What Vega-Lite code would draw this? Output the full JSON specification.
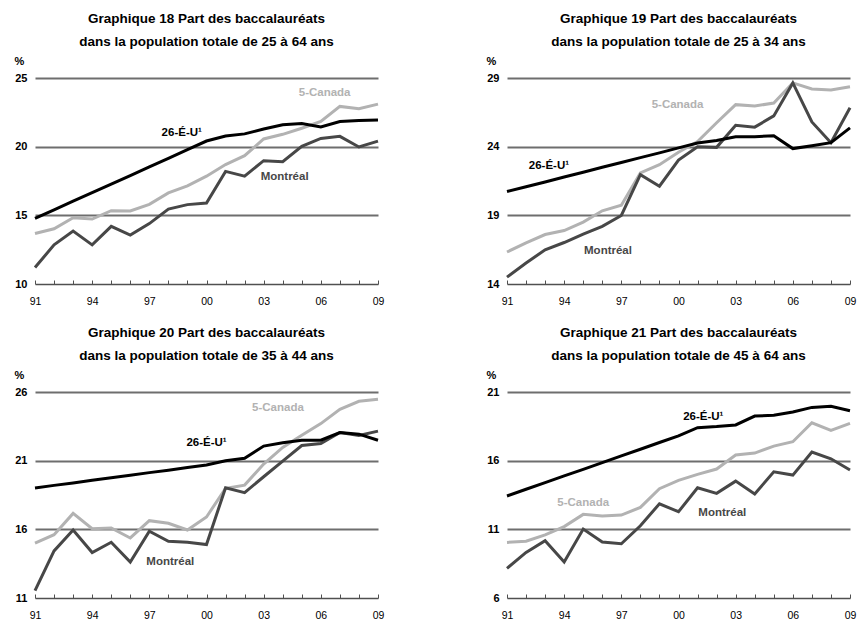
{
  "$schema": "https://vega.github.io/schema/vega-lite/v6.json",
  "background": "white",
  "padding": {"left": 14, "top": 11, "right": 6, "bottom": 4},
  "columns": 2,
  "spacing": {"row": 18, "column": 102},
  "resolve": {"scale": {"x": "independent", "y": "independent"}},
  "config": {
    "font": "Liberation Sans",
    "view": {"stroke": null},
    "title": {"fontSize": 13.5, "fontWeight": "bold", "lineHeight": 23, "anchor": "middle", "color": "#000000", "offset": 7},
    "axisX": {"grid": false, "domainColor": "#505050", "domainWidth": 1.5, "tickColor": "#505050", "tickWidth": 1, "tickSize": -4, "labelFontSize": 10.5, "labelColor": "#000000", "labelPadding": 18, "labelFlush": false, "labelOverlap": false, "labelBound": false, "title": null},
    "axisY": {"domain": false, "ticks": false, "grid": true, "gridColor": "#6e6e6e", "gridWidth": 2, "labelFontSize": 11, "labelFontWeight": "bold", "labelColor": "#000000", "labelPadding": 8, "titleAngle": 0, "titleX": -16, "titleY": -17, "titleFontSize": 11, "titleFontWeight": "bold", "titleAlign": "center", "titleBaseline": "middle", "titleColor": "#000000"}
  },
  "datasets": {
    "series": [
      {"panel": 18, "year": 1991, "Montréal": 11.2, "5-Canada": 13.68, "26-É-U": 14.78},
      {"panel": 18, "year": 1992, "Montréal": 12.85, "5-Canada": 14.02, "26-É-U": 15.4},
      {"panel": 18, "year": 1993, "Montréal": 13.85, "5-Canada": 14.83, "26-É-U": 16.03},
      {"panel": 18, "year": 1994, "Montréal": 12.85, "5-Canada": 14.73, "26-É-U": 16.65},
      {"panel": 18, "year": 1995, "Montréal": 14.2, "5-Canada": 15.34, "26-É-U": 17.28},
      {"panel": 18, "year": 1996, "Montréal": 13.56, "5-Canada": 15.32, "26-É-U": 17.9},
      {"panel": 18, "year": 1997, "Montréal": 14.4, "5-Canada": 15.8, "26-É-U": 18.53},
      {"panel": 18, "year": 1998, "Montréal": 15.46, "5-Canada": 16.63, "26-É-U": 19.15},
      {"panel": 18, "year": 1999, "Montréal": 15.78, "5-Canada": 17.15, "26-É-U": 19.78},
      {"panel": 18, "year": 2000, "Montréal": 15.9, "5-Canada": 17.85, "26-É-U": 20.41},
      {"panel": 18, "year": 2001, "Montréal": 18.2, "5-Canada": 18.7, "26-É-U": 20.78},
      {"panel": 18, "year": 2002, "Montréal": 17.85, "5-Canada": 19.34, "26-É-U": 20.93},
      {"panel": 18, "year": 2003, "Montréal": 18.98, "5-Canada": 20.56, "26-É-U": 21.29},
      {"panel": 18, "year": 2004, "Montréal": 18.9, "5-Canada": 20.9, "26-É-U": 21.59},
      {"panel": 18, "year": 2005, "Montréal": 20.02, "5-Canada": 21.34, "26-É-U": 21.68},
      {"panel": 18, "year": 2006, "Montréal": 20.6, "5-Canada": 21.83, "26-É-U": 21.44},
      {"panel": 18, "year": 2007, "Montréal": 20.75, "5-Canada": 22.93, "26-É-U": 21.83},
      {"panel": 18, "year": 2008, "Montréal": 19.98, "5-Canada": 22.76, "26-É-U": 21.9},
      {"panel": 18, "year": 2009, "Montréal": 20.4, "5-Canada": 23.1, "26-É-U": 21.95},

      {"panel": 19, "year": 1991, "Montréal": 14.5, "5-Canada": 16.33, "26-É-U": 20.73},
      {"panel": 19, "year": 1992, "Montréal": 15.53, "5-Canada": 17.0, "26-É-U": 21.08},
      {"panel": 19, "year": 1993, "Montréal": 16.49, "5-Canada": 17.6, "26-É-U": 21.43},
      {"panel": 19, "year": 1994, "Montréal": 17.02, "5-Canada": 17.89, "26-É-U": 21.79},
      {"panel": 19, "year": 1995, "Montréal": 17.64, "5-Canada": 18.51, "26-É-U": 22.14},
      {"panel": 19, "year": 1996, "Montréal": 18.2, "5-Canada": 19.33, "26-É-U": 22.5},
      {"panel": 19, "year": 1997, "Montréal": 18.99, "5-Canada": 19.74, "26-É-U": 22.85},
      {"panel": 19, "year": 1998, "Montréal": 21.96, "5-Canada": 22.09, "26-É-U": 23.2},
      {"panel": 19, "year": 1999, "Montréal": 21.12, "5-Canada": 22.69, "26-É-U": 23.55},
      {"panel": 19, "year": 2000, "Montréal": 23.02, "5-Canada": 23.6, "26-É-U": 23.91},
      {"panel": 19, "year": 2001, "Montréal": 24.0, "5-Canada": 24.37, "26-É-U": 24.26},
      {"panel": 19, "year": 2002, "Montréal": 23.95, "5-Canada": 25.74, "26-É-U": 24.45},
      {"panel": 19, "year": 2003, "Montréal": 25.56, "5-Canada": 27.06, "26-É-U": 24.72},
      {"panel": 19, "year": 2004, "Montréal": 25.42, "5-Canada": 26.96, "26-É-U": 24.72},
      {"panel": 19, "year": 2005, "Montréal": 26.24, "5-Canada": 27.18, "26-É-U": 24.8},
      {"panel": 19, "year": 2006, "Montréal": 28.64, "5-Canada": 28.64, "26-É-U": 23.86},
      {"panel": 19, "year": 2007, "Montréal": 25.8, "5-Canada": 28.2, "26-É-U": 24.07},
      {"panel": 19, "year": 2008, "Montréal": 24.29, "5-Canada": 28.13, "26-É-U": 24.29},
      {"panel": 19, "year": 2009, "Montréal": 26.83, "5-Canada": 28.37, "26-É-U": 25.37},

      {"panel": 20, "year": 1991, "Montréal": 11.53, "5-Canada": 15.0, "26-É-U": 19.01},
      {"panel": 20, "year": 1992, "Montréal": 14.43, "5-Canada": 15.61, "26-É-U": 19.2},
      {"panel": 20, "year": 1993, "Montréal": 15.95, "5-Canada": 17.16, "26-É-U": 19.38},
      {"panel": 20, "year": 1994, "Montréal": 14.31, "5-Canada": 16.05, "26-É-U": 19.57},
      {"panel": 20, "year": 1995, "Montréal": 15.06, "5-Canada": 16.1, "26-É-U": 19.76},
      {"panel": 20, "year": 1996, "Montréal": 13.61, "5-Canada": 15.37, "26-É-U": 19.94},
      {"panel": 20, "year": 1997, "Montréal": 15.86, "5-Canada": 16.63, "26-É-U": 20.13},
      {"panel": 20, "year": 1998, "Montréal": 15.13, "5-Canada": 16.44, "26-É-U": 20.31},
      {"panel": 20, "year": 1999, "Montréal": 15.06, "5-Canada": 15.95, "26-É-U": 20.5},
      {"panel": 20, "year": 2000, "Montréal": 14.89, "5-Canada": 16.9, "26-É-U": 20.69},
      {"panel": 20, "year": 2001, "Montréal": 19.03, "5-Canada": 18.98, "26-É-U": 21.0},
      {"panel": 20, "year": 2002, "Montréal": 18.67, "5-Canada": 19.22, "26-É-U": 21.17},
      {"panel": 20, "year": 2003, "Montréal": 19.83, "5-Canada": 20.75, "26-É-U": 22.06},
      {"panel": 20, "year": 2004, "Montréal": 20.97, "5-Canada": 21.96, "26-É-U": 22.3},
      {"panel": 20, "year": 2005, "Montréal": 22.1, "5-Canada": 22.85, "26-É-U": 22.49},
      {"panel": 20, "year": 2006, "Montréal": 22.25, "5-Canada": 23.7, "26-É-U": 22.49},
      {"panel": 20, "year": 2007, "Montréal": 23.05, "5-Canada": 24.74, "26-É-U": 23.05},
      {"panel": 20, "year": 2008, "Montréal": 22.83, "5-Canada": 25.32, "26-É-U": 22.93},
      {"panel": 20, "year": 2009, "Montréal": 23.15, "5-Canada": 25.47, "26-É-U": 22.49},

      {"panel": 21, "year": 1991, "Montréal": 8.16, "5-Canada": 10.05, "26-É-U": 13.43},
      {"panel": 21, "year": 1992, "Montréal": 9.32, "5-Canada": 10.13, "26-É-U": 13.92},
      {"panel": 21, "year": 1993, "Montréal": 10.17, "5-Canada": 10.59, "26-É-U": 14.4},
      {"panel": 21, "year": 1994, "Montréal": 8.62, "5-Canada": 11.2, "26-É-U": 14.89},
      {"panel": 21, "year": 1995, "Montréal": 11.02, "5-Canada": 12.09, "26-É-U": 15.37},
      {"panel": 21, "year": 1996, "Montréal": 10.07, "5-Canada": 11.97, "26-É-U": 15.86},
      {"panel": 21, "year": 1997, "Montréal": 9.95, "5-Canada": 12.04, "26-É-U": 16.35},
      {"panel": 21, "year": 1998, "Montréal": 11.26, "5-Canada": 12.6, "26-É-U": 16.83},
      {"panel": 21, "year": 1999, "Montréal": 12.86, "5-Canada": 13.96, "26-É-U": 17.32},
      {"panel": 21, "year": 2000, "Montréal": 12.28, "5-Canada": 14.56, "26-É-U": 17.8},
      {"panel": 21, "year": 2001, "Montréal": 14.03, "5-Canada": 15.0, "26-É-U": 18.4},
      {"panel": 21, "year": 2002, "Montréal": 13.62, "5-Canada": 15.39, "26-É-U": 18.48},
      {"panel": 21, "year": 2003, "Montréal": 14.51, "5-Canada": 16.41, "26-É-U": 18.6},
      {"panel": 21, "year": 2004, "Montréal": 13.57, "5-Canada": 16.55, "26-É-U": 19.25},
      {"panel": 21, "year": 2005, "Montréal": 15.19, "5-Canada": 17.06, "26-É-U": 19.3},
      {"panel": 21, "year": 2006, "Montréal": 14.95, "5-Canada": 17.38, "26-É-U": 19.54},
      {"panel": 21, "year": 2007, "Montréal": 16.63, "5-Canada": 18.76, "26-É-U": 19.88},
      {"panel": 21, "year": 2008, "Montréal": 16.14, "5-Canada": 18.2, "26-É-U": 19.96},
      {"panel": 21, "year": 2009, "Montréal": 15.32, "5-Canada": 18.71, "26-É-U": 19.64}
    ],
    "labels": [
      {"panel": 18, "series": "5-Canada", "label": "5-Canada", "year": 2006.2, "value": 23.9},
      {"panel": 18, "series": "26-É-U", "label": "26-É-U¹", "year": 1998.7, "value": 21.0},
      {"panel": 18, "series": "Montréal", "label": "Montréal", "year": 2004.1, "value": 17.8},
      {"panel": 19, "series": "5-Canada", "label": "5-Canada", "year": 1999.95, "value": 27.0},
      {"panel": 19, "series": "26-É-U", "label": "26-É-U¹", "year": 1993.2, "value": 22.6},
      {"panel": 19, "series": "Montréal", "label": "Montréal", "year": 1996.3, "value": 16.4},
      {"panel": 20, "series": "5-Canada", "label": "5-Canada", "year": 2003.75, "value": 24.8},
      {"panel": 20, "series": "26-É-U", "label": "26-É-U¹", "year": 2000.0, "value": 22.3},
      {"panel": 20, "series": "Montréal", "label": "Montréal", "year": 1998.1, "value": 13.6},
      {"panel": 21, "series": "26-É-U", "label": "26-É-U¹", "year": 2001.3, "value": 19.2},
      {"panel": 21, "series": "5-Canada", "label": "5-Canada", "year": 1995.0, "value": 12.9},
      {"panel": 21, "series": "Montréal", "label": "Montréal", "year": 2002.3, "value": 12.2}
    ]
  },
  "concat": [
    {
      "width": 343, "height": 206,
      "title": {"text": ["Graphique 18 Part des baccalauréats", "dans la population totale de 25 à 64 ans"]},
      "resolve": {"axis": {"x": "independent"}},
      "layer": [
        {
          "data": {"name": "series"},
          "transform": [{"filter": "datum.panel == 18"}, {"fold": ["5-Canada", "Montréal", "26-É-U"], "as": ["series", "value"]}],
          "mark": {"type": "line", "strokeWidth": 3},
          "encoding": {
            "x": {"field": "year", "type": "quantitative", "scale": {"domain": [1991, 2009], "nice": false, "zero": false},
                  "axis": {"orient": "bottom", "values": [1991,1992,1993,1994,1995,1996,1997,1998,1999,2000,2001,2002,2003,2004,2005,2006,2007,2008,2009], "labels": false}},
            "y": {"field": "value", "type": "quantitative", "scale": {"domain": [10, 25], "nice": false, "zero": false},
                  "axis": {"values": [10, 15, 20, 25], "title": "%", "gridOpacity": {"condition": {"test": "datum.value == 10", "value": 0}, "value": 1}}},
            "color": {"field": "series", "type": "nominal", "scale": {"domain": ["5-Canada", "Montréal", "26-É-U"], "range": ["#b2b2b2", "#474747", "#000000"]}, "legend": null}
          }
        },
        {
          "data": {"name": "labels"},
          "transform": [{"filter": "datum.panel == 18"}],
          "mark": {"type": "text", "fontWeight": "bold", "fontSize": 11.5},
          "encoding": {
            "x": {"field": "year", "type": "quantitative",
                  "axis": {"orient": "bottom", "values": [1991, 1994, 1997, 2000, 2003, 2006, 2009], "ticks": false, "domain": false, "labelPadding": 12, "labelExpr": "substring(toString(datum.value), 2, 4)"}},
            "y": {"field": "value", "type": "quantitative"},
            "text": {"field": "label"},
            "color": {"field": "series", "type": "nominal"}
          }
        }
      ]
    },
    {
      "width": 343, "height": 206,
      "title": {"text": ["Graphique 19 Part des baccalauréats", "dans la population totale de 25 à 34 ans"]},
      "resolve": {"axis": {"x": "independent"}},
      "layer": [
        {
          "data": {"name": "series"},
          "transform": [{"filter": "datum.panel == 19"}, {"fold": ["5-Canada", "Montréal", "26-É-U"], "as": ["series", "value"]}],
          "mark": {"type": "line", "strokeWidth": 3},
          "encoding": {
            "x": {"field": "year", "type": "quantitative", "scale": {"domain": [1991, 2009], "nice": false, "zero": false},
                  "axis": {"orient": "bottom", "values": [1991,1992,1993,1994,1995,1996,1997,1998,1999,2000,2001,2002,2003,2004,2005,2006,2007,2008,2009], "labels": false}},
            "y": {"field": "value", "type": "quantitative", "scale": {"domain": [14, 29], "nice": false, "zero": false},
                  "axis": {"values": [14, 19, 24, 29], "title": "%", "gridOpacity": {"condition": {"test": "datum.value == 14", "value": 0}, "value": 1}}},
            "color": {"field": "series", "type": "nominal", "scale": {"domain": ["5-Canada", "Montréal", "26-É-U"], "range": ["#b2b2b2", "#474747", "#000000"]}, "legend": null}
          }
        },
        {
          "data": {"name": "labels"},
          "transform": [{"filter": "datum.panel == 19"}],
          "mark": {"type": "text", "fontWeight": "bold", "fontSize": 11.5},
          "encoding": {
            "x": {"field": "year", "type": "quantitative",
                  "axis": {"orient": "bottom", "values": [1991, 1994, 1997, 2000, 2003, 2006, 2009], "ticks": false, "domain": false, "labelPadding": 12, "labelExpr": "substring(toString(datum.value), 2, 4)"}},
            "y": {"field": "value", "type": "quantitative"},
            "text": {"field": "label"},
            "color": {"field": "series", "type": "nominal"}
          }
        }
      ]
    },
    {
      "width": 343, "height": 206,
      "title": {"text": ["Graphique 20 Part des baccalauréats", "dans la population totale de 35 à 44 ans"]},
      "resolve": {"axis": {"x": "independent"}},
      "layer": [
        {
          "data": {"name": "series"},
          "transform": [{"filter": "datum.panel == 20"}, {"fold": ["5-Canada", "Montréal", "26-É-U"], "as": ["series", "value"]}],
          "mark": {"type": "line", "strokeWidth": 3},
          "encoding": {
            "x": {"field": "year", "type": "quantitative", "scale": {"domain": [1991, 2009], "nice": false, "zero": false},
                  "axis": {"orient": "bottom", "values": [1991,1992,1993,1994,1995,1996,1997,1998,1999,2000,2001,2002,2003,2004,2005,2006,2007,2008,2009], "labels": false}},
            "y": {"field": "value", "type": "quantitative", "scale": {"domain": [11, 26], "nice": false, "zero": false},
                  "axis": {"values": [11, 16, 21, 26], "title": "%", "gridOpacity": {"condition": {"test": "datum.value == 11", "value": 0}, "value": 1}}},
            "color": {"field": "series", "type": "nominal", "scale": {"domain": ["5-Canada", "Montréal", "26-É-U"], "range": ["#b2b2b2", "#474747", "#000000"]}, "legend": null}
          }
        },
        {
          "data": {"name": "labels"},
          "transform": [{"filter": "datum.panel == 20"}],
          "mark": {"type": "text", "fontWeight": "bold", "fontSize": 11.5},
          "encoding": {
            "x": {"field": "year", "type": "quantitative",
                  "axis": {"orient": "bottom", "values": [1991, 1994, 1997, 2000, 2003, 2006, 2009], "ticks": false, "domain": false, "labelPadding": 12, "labelExpr": "substring(toString(datum.value), 2, 4)"}},
            "y": {"field": "value", "type": "quantitative"},
            "text": {"field": "label"},
            "color": {"field": "series", "type": "nominal"}
          }
        }
      ]
    },
    {
      "width": 343, "height": 206,
      "title": {"text": ["Graphique 21 Part des baccalauréats", "dans la population totale de 45 à 64 ans"]},
      "resolve": {"axis": {"x": "independent"}},
      "layer": [
        {
          "data": {"name": "series"},
          "transform": [{"filter": "datum.panel == 21"}, {"fold": ["5-Canada", "Montréal", "26-É-U"], "as": ["series", "value"]}],
          "mark": {"type": "line", "strokeWidth": 3},
          "encoding": {
            "x": {"field": "year", "type": "quantitative", "scale": {"domain": [1991, 2009], "nice": false, "zero": false},
                  "axis": {"orient": "bottom", "values": [1991,1992,1993,1994,1995,1996,1997,1998,1999,2000,2001,2002,2003,2004,2005,2006,2007,2008,2009], "labels": false}},
            "y": {"field": "value", "type": "quantitative", "scale": {"domain": [6, 21], "nice": false, "zero": false},
                  "axis": {"values": [6, 11, 16, 21], "title": "%", "gridOpacity": {"condition": {"test": "datum.value == 6", "value": 0}, "value": 1}}},
            "color": {"field": "series", "type": "nominal", "scale": {"domain": ["5-Canada", "Montréal", "26-É-U"], "range": ["#b2b2b2", "#474747", "#000000"]}, "legend": null}
          }
        },
        {
          "data": {"name": "labels"},
          "transform": [{"filter": "datum.panel == 21"}],
          "mark": {"type": "text", "fontWeight": "bold", "fontSize": 11.5},
          "encoding": {
            "x": {"field": "year", "type": "quantitative",
                  "axis": {"orient": "bottom", "values": [1991, 1994, 1997, 2000, 2003, 2006, 2009], "ticks": false, "domain": false, "labelPadding": 12, "labelExpr": "substring(toString(datum.value), 2, 4)"}},
            "y": {"field": "value", "type": "quantitative"},
            "text": {"field": "label"},
            "color": {"field": "series", "type": "nominal"}
          }
        }
      ]
    }
  ]
}
